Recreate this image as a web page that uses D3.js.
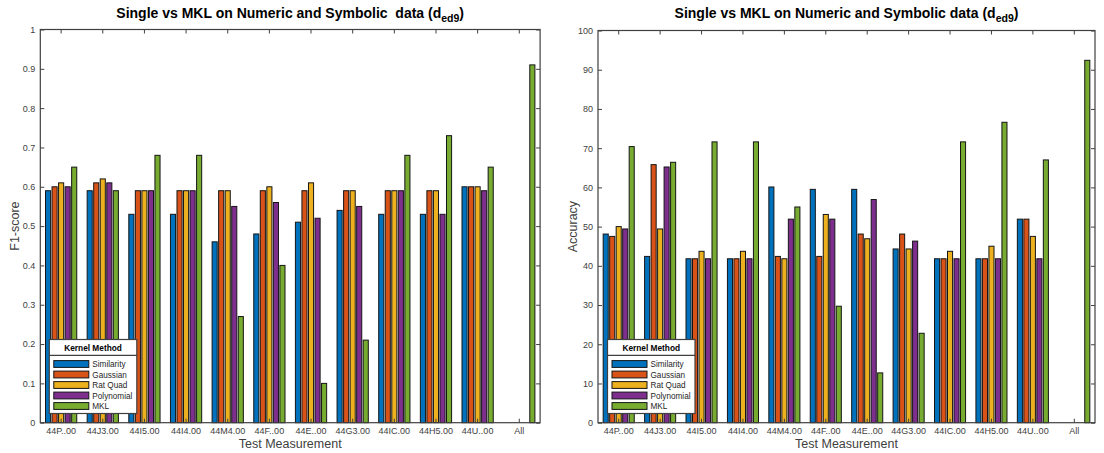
<!DOCTYPE html>
<html>
<head>
<meta charset="utf-8">
<script src="https://cdn.jsdelivr.net/npm/d3@7"></script>
<style>
  html, body { margin: 0; padding: 0; background: #fff; }
  svg { display: block; font-family: "Liberation Sans", Arial, Helvetica, sans-serif; }
</style>
</head>
<body>
<svg id="chart" width="1104" height="453"></svg>
<script>
// Test measurements (x categories)
const categories = ["44P..00", "44J3.00", "44I5.00", "44I4.00", "44M4.00", "44F..00",
                    "44E..00", "44G3.00", "44IC.00", "44H5.00", "44U..00", "All"];

// Kernel methods (series)
const methods = ["Similarity", "Gaussian", "Rat Quad", "Polynomial", "MKL"];
const methodColors = ["#0072BD", "#D95319", "#EDB120", "#7E2F8E", "#77AC30"];

// F1-score per kernel method, one value per test measurement
const f1Similarity = [0.59, 0.59, 0.53, 0.53, 0.46, 0.48, 0.51, 0.54, 0.53, 0.53, 0.60, 0];
const f1Gaussian   = [0.60, 0.61, 0.59, 0.59, 0.59, 0.59, 0.59, 0.59, 0.59, 0.59, 0.60, 0];
const f1RatQuad    = [0.61, 0.62, 0.59, 0.59, 0.59, 0.60, 0.61, 0.59, 0.59, 0.59, 0.60, 0];
const f1Polynomial = [0.60, 0.61, 0.59, 0.59, 0.55, 0.56, 0.52, 0.55, 0.59, 0.53, 0.59, 0];
const f1MKL        = [0.65, 0.59, 0.68, 0.68, 0.27, 0.40, 0.10, 0.21, 0.68, 0.73, 0.65, 0.91];

// Accuracy (%) per kernel method, one value per test measurement
const accSimilarity = [48.1, 42.4, 41.8, 41.8, 60.1, 59.5, 59.5, 44.3, 41.8, 41.8, 51.9, 0];
const accGaussian   = [47.5, 65.8, 41.8, 41.8, 42.4, 42.4, 48.1, 48.1, 41.8, 41.8, 51.9, 0];
const accRatQuad    = [50.0, 49.4, 43.7, 43.7, 41.8, 53.1, 46.9, 44.3, 43.7, 45.0, 47.5, 0];
const accPolynomial = [49.4, 65.2, 41.8, 41.8, 51.9, 51.9, 56.9, 46.3, 41.8, 41.8, 41.8, 0];
const accMKL        = [70.4, 66.4, 71.6, 71.6, 55.0, 29.7, 12.7, 22.8, 71.6, 76.6, 67.0, 92.4];

// Y tick values
const f1Ticks  = [0, 0.1, 0.2, 0.3, 0.4, 0.5, 0.6, 0.7, 0.8, 0.9, 1];
const f1TickLabels = ["0", "0.1", "0.2", "0.3", "0.4", "0.5", "0.6", "0.7", "0.8", "0.9", "1"];
const accTicks = [0, 10, 20, 30, 40, 50, 60, 70, 80, 90, 100];

const chartTitle = "Single vs MKL on Numeric and Symbolic\u00a0\u00a0data (d";
const chartTitleRight = "Single vs MKL on Numeric and Symbolic data (d";
const titleSub = "ed9";
const xLabel = "Test Measurement";
const legendTitle = "Kernel Method";

const svg = d3.select("#chart");
const axisColor = "#404040";
const textColor = "#404040";

function drawPanel(opts) {
  const { left, right, top, bottom, series, yMax, ticks, tickLabels, yLabel, title, legendX } = opts;
  const g = svg.append("g");

  const x = d3.scaleBand().domain(categories).range([left, right]).paddingInner(0).paddingOuter(0);
  const y = d3.scaleLinear().domain([0, yMax]).range([bottom, top]);
  const groupW = x.bandwidth() * 0.75;
  const xInner = d3.scaleBand().domain(methods).range([-groupW / 2, groupW / 2])
                   .paddingInner(0.22).paddingOuter(0);

  // bars
  series.forEach((vals, si) => {
    g.append("g").selectAll("rect").data(vals).join("rect")
      .attr("x", (d, i) => x(categories[i]) + x.bandwidth() / 2 + xInner(methods[si]))
      .attr("y", d => y(d))
      .attr("width", xInner.bandwidth())
      .attr("height", d => y(0) - y(d))
      .attr("fill", methodColors[si])
      .attr("stroke", "#151515")
      .attr("stroke-width", 1);
  });

  // y axes (left labels, right inward ticks)
  const yAxisL = d3.axisLeft(y).tickValues(ticks).tickSizeInner(-4).tickSizeOuter(0)
    .tickFormat((d, i) => tickLabels ? tickLabels[i] : String(d)).tickPadding(5);
  const yl = g.append("g").attr("transform", `translate(${left},0)`).call(yAxisL);
  const yAxisR = d3.axisRight(y).tickValues(ticks).tickSizeInner(-4).tickSizeOuter(0).tickFormat("");
  const yr = g.append("g").attr("transform", `translate(${right},0)`).call(yAxisR);

  // x axes (bottom labels, top inward ticks)
  const xAxisB = d3.axisBottom(x).tickSizeInner(-4).tickSizeOuter(0).tickPadding(4.5);
  const xb = g.append("g").attr("transform", `translate(0,${bottom})`).call(xAxisB);
  const xAxisT = d3.axisTop(x).tickSizeInner(-4).tickSizeOuter(0).tickFormat("");
  const xt = g.append("g").attr("transform", `translate(0,${top})`).call(xAxisT);

  [yl, yr, xb, xt].forEach(a => {
    a.select(".domain").remove();
    a.selectAll("line").attr("stroke", axisColor).attr("stroke-width", 1);
    a.selectAll("text").attr("fill", textColor).attr("font-size", 9)
      .attr("font-family", "'Liberation Sans', Arial, sans-serif");
  });

  // axes box
  g.append("rect").attr("x", left).attr("y", top)
    .attr("width", right - left).attr("height", bottom - top)
    .attr("fill", "none").attr("stroke", axisColor).attr("stroke-width", 1.2);

  // title
  const t = g.append("text").attr("x", (left + right) / 2).attr("y", 17.5)
    .attr("text-anchor", "middle").attr("font-weight", "bold").attr("font-size", 14)
    .attr("fill", "#000");
  t.append("tspan").text(title);
  t.append("tspan").attr("dy", 4.5).attr("font-size", 10.5).text(titleSub);
  t.append("tspan").attr("dy", -4.5).text(")");

  // axis labels
  g.append("text").attr("x", (left + right) / 2).attr("y", 448)
    .attr("text-anchor", "middle").attr("font-size", 12.5).attr("fill", textColor).text(xLabel);
  g.append("text")
    .attr("transform", `translate(${left - 21},${(top + bottom) / 2}) rotate(-90)`)
    .attr("text-anchor", "middle").attr("font-size", 12.5).attr("fill", textColor).text(yLabel);

  // legend
  const lx = legendX, ly = 339.5, lw = 87.5, lh = 74;
  const lg = g.append("g");
  lg.append("rect").attr("x", lx).attr("y", ly).attr("width", lw).attr("height", lh)
    .attr("fill", "#fff").attr("stroke", "#404040").attr("stroke-width", 1.2);
  lg.append("text").attr("x", lx + lw / 2).attr("y", ly + 11.5).attr("text-anchor", "middle")
    .attr("font-size", 8.3).attr("font-weight", "bold").attr("fill", "#000").text(legendTitle);
  lg.append("line").attr("x1", lx).attr("x2", lx + lw).attr("y1", ly + 15.8).attr("y2", ly + 15.8)
    .attr("stroke", "#404040").attr("stroke-width", 1.2);
  methods.forEach((m, i) => {
    const yy = ly + 24.5 + i * 10.5;
    lg.append("rect").attr("x", lx + 4.5).attr("y", yy - 3.4).attr("width", 35).attr("height", 6.8)
      .attr("fill", methodColors[i]).attr("stroke", "#151515").attr("stroke-width", 1);
    lg.append("text").attr("x", lx + 43).attr("y", yy + 3).attr("font-size", 8.2)
      .attr("fill", "#262626").text(m);
  });
}

drawPanel({
  left: 40.3, right: 540.1, top: 29.5, bottom: 422.7,
  series: [f1Similarity, f1Gaussian, f1RatQuad, f1Polynomial, f1MKL],
  yMax: 1, ticks: f1Ticks, tickLabels: f1TickLabels, yLabel: "F1-score",
  title: chartTitle, legendX: 49.3
});

drawPanel({
  left: 598, right: 1095, top: 30.5, bottom: 422.7,
  series: [accSimilarity, accGaussian, accRatQuad, accPolynomial, accMKL],
  yMax: 100, ticks: accTicks, tickLabels: null, yLabel: "Accuracy",
  title: chartTitleRight, legendX: 607.5
});
</script>
</body>
</html>
